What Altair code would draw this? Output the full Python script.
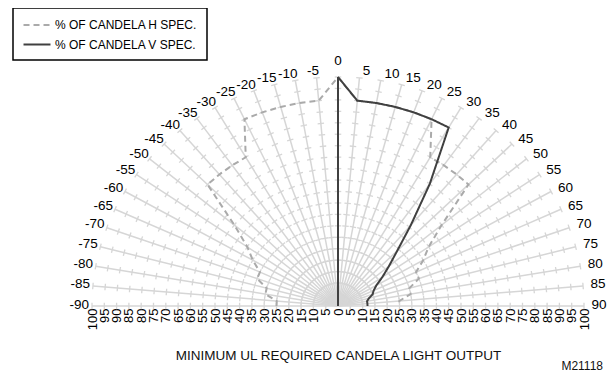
import math
import altair as alt
import pandas as pd

# ---------------- data ----------------
ANGLES = [-90, -85, -80, -75, -70, -65, -60, -55, -50, -45, -40, -35, -30, -25, -20, -15, -10, -5,
          0, 5, 10, 15, 20, 25, 30, 35, 40, 45, 50, 55, 60, 65, 70, 75, 80, 85, 90]
H_SPEC = [25, 25, 30, 30, 35, 35, 40, 45, 55, 75, 75, 75, 75, 90, 90, 90, 90, 90,
          100, 90, 90, 90, 90, 90, 75, 75, 75, 75, 55, 45, 40, 35, 35, 30, 30, 25, 25]
V_SPEC = [0, 0, 0, 0, 0, 0, 0, 0, 0, 0, 0, 0, 0, 0, 0, 0, 0, 0,
          100, 90, 90, 90, 90, 90, 90, 65, 46, 34, 27, 22, 18, 16, 15, 13, 12, 12, 12]
RING_VALUES = [5, 10, 15, 20, 25, 30, 35, 40, 45, 50, 55, 60, 65, 70, 75, 80, 85, 90, 95, 100]
AXIS_VALUES = [-100, -95, -90, -85, -80, -75, -70, -65, -60, -55, -50, -45, -40, -35, -30, -25,
               -20, -15, -10, -5, 0, 5, 10, 15, 20, 25, 30, 35, 40, 45, 50, 55, 60, 65, 70, 75,
               80, 85, 90, 95, 100]
H_NAME = "% OF CANDELA H SPEC."
V_NAME = "% OF CANDELA V SPEC."
X_TITLE = "MINIMUM UL REQUIRED CANDELA LIGHT OUTPUT"
CODE = "M21118"

# ---------------- layout ----------------
PLOT_W, PLOT_H = 492, 229
SX, SY = PLOT_W / 200.0, PLOT_H / 100.0
FONT = "Liberation Sans"
GRID = "#d6d6d6"

rows = []
for name, vals in ((H_NAME, H_SPEC), (V_NAME, V_SPEC)):
    for i, (a, v) in enumerate(zip(ANGLES, vals)):
        rows.append({"series": name, "angle": a, "value": v, "idx": i})
series_df = pd.DataFrame(rows)

rays_df = pd.DataFrame({"angle": ANGLES})

trows = []
for a in ANGLES:
    t = math.radians(a)
    rot = math.degrees(math.atan2(SX * math.sin(t), SY * math.cos(t))) + 180
    for r in RING_VALUES:
        trows.append({"angle": a, "r": r, "rot": rot})
ticks_df = pd.DataFrame(trows)

lrows = []
for a in ANGLES:
    t = math.radians(a)
    ex, ey = SX * 100 * math.sin(t), SY * 100 * math.cos(t)
    if a > 0:
        lx, ly, side = ex + 3 + 4.5 * math.sin(t), ey + 1.5 + 5 * math.cos(t), "right"
    elif a < 0:
        lx, ly, side = ex + 2.5 - 5.5 * math.sin(t) ** 2, ey + 1.5 + 5 * math.cos(t), "left"
    else:
        lx, ly, side = 0.0, ey + 16, "top"
    lrows.append({"angle": a, "label": str(a), "lx": lx / SX, "ly": ly / SY, "side": side})
labels_df = pd.DataFrame(lrows)

xscale = alt.Scale(domain=[-100, 100], nice=False, zero=False)
yscale = alt.Scale(domain=[0, 100], nice=False, zero=False)
xaxis = alt.Axis(values=AXIS_VALUES, labelExpr="'' + abs(datum.value)", labelAngle=270,
                 labelFontSize=13, labelFont=FONT, labelColor="black", labelPadding=2,
                 labelOverlap=False, labelFlush=False, labelBound=False,
                 domain=False, ticks=False, grid=False,
                 title=X_TITLE, titleFont=FONT, titleFontSize=13.5, titleFontWeight="normal",
                 titleColor="#111111", titlePadding=19)


def X(f):
    return alt.X(f, type="quantitative", scale=xscale, axis=xaxis)


def Y(f):
    return alt.Y(f, type="quantitative", scale=yscale, axis=None)


rays = alt.Chart(rays_df).transform_calculate(
    x0="0", y0="0",
    x1="100*sin(datum.angle*PI/180)", y1="100*cos(datum.angle*PI/180)"
).mark_rule(color=GRID, strokeWidth=1.5).encode(
    x=X("x0"), y=Y("y0"), x2="x1:Q", y2="y1:Q")

ticks = alt.Chart(ticks_df).transform_calculate(
    tx="datum.r*sin(datum.angle*PI/180)", ty="datum.r*cos(datum.angle*PI/180)"
).mark_point(shape="M-1,0L1,0", size=42, filled=False, color=GRID, strokeWidth=1.3,
             opacity=1).encode(
    x=X("tx"), y=Y("ty"), angle=alt.Angle("rot:Q", scale=None))

leg = alt.Legend(orient="none", legendX=-79, legendY=-69, title=None,
                 strokeColor="black", fillColor="white", padding=9,
                 symbolType="M-2,0L2,0", symbolSize=182, symbolStrokeWidth=2,
                 symbolOffset=7, labelOffset=10,
                 labelFont=FONT, labelFontSize=12, labelColor="black",
                 rowPadding=5.5)

lines = alt.Chart(series_df).transform_calculate(
    px="datum.value*sin(datum.angle*PI/180)", py="datum.value*cos(datum.angle*PI/180)"
).mark_line(strokeWidth=2).encode(
    x=X("px"), y=Y("py"),
    color=alt.Color("series:N", scale=alt.Scale(domain=[H_NAME, V_NAME],
                                                range=["#aaaaaa", "#404040"]), legend=leg),
    strokeDash=alt.StrokeDash("series:N", scale=alt.Scale(domain=[H_NAME, V_NAME],
                                                          range=[[6, 4], [1, 0]]), legend=leg),
    order="idx:Q")


def label_layer(side, align):
    return alt.Chart(labels_df).transform_filter(
        alt.datum.side == side
    ).mark_text(align=align, baseline="middle", font=FONT, fontSize=13.5, color="black").encode(
        x=X("lx"), y=Y("ly"), text="label:N")


chart = alt.layer(
    rays, ticks, lines,
    label_layer("left", "right"), label_layer("right", "left"), label_layer("top", "center")
).properties(
    width=PLOT_W, height=PLOT_H,
    padding={"left": 84, "top": 69, "right": 24, "bottom": 68},
    autosize=alt.AutoSizeParams(type="none"),
    title=alt.TitleParams(CODE, orient="bottom", anchor="end", frame="group", fontSize=12,
                          font=FONT, fontWeight="normal", color="#111111", dx=19, offset=-1),
).configure_view(stroke=None).configure_legend(strokeWidth=1.5)

chart.save("out.html", embed_options={"renderer": "svg", "actions": False})
